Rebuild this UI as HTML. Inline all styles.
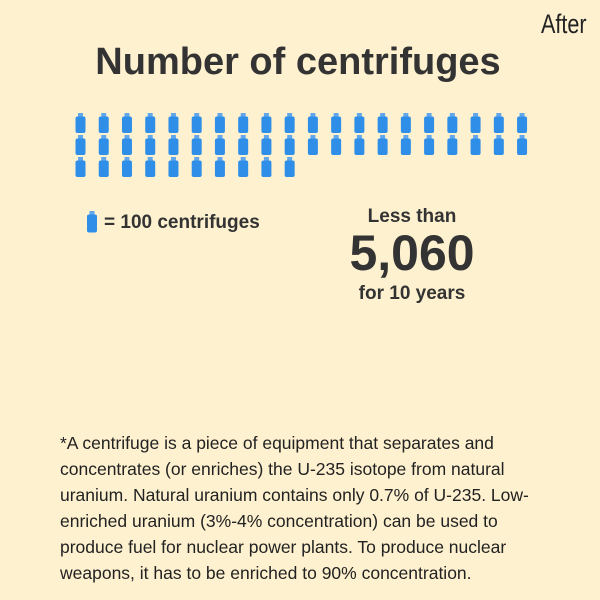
<!DOCTYPE html>
<html><head><meta charset="utf-8"><style>
body{margin:0;width:600px;height:600px;background:#fef1cf;font-family:"Liberation Sans",sans-serif;color:#333;position:relative;overflow:hidden}
.a{position:absolute;margin:0}
</style></head><body>
<div class="a" style="left:541px;top:9px;font-size:27px;font-family:'Liberation Sans Narrow','Liberation Sans',sans-serif;transform:scaleX(0.8);transform-origin:left top;color:#222">After</div>
<div class="a" style="left:0;width:596px;text-align:center;top:41px;font-size:38px;font-weight:bold">Number of centrifuges</div>
<svg class="a" style="left:0;top:0" width="600" height="600" id="g"></svg>
<svg class="a" style="left:86px;top:211px" width="12" height="24"><rect x="3.5" y="0" width="5" height="4" fill="#62a7ec"/><rect x="1" y="3.5" width="10" height="18" rx="2" fill="#2f8fe8"/></svg>
<div class="a" style="left:104px;top:212px;font-size:19px;font-weight:bold">= 100 centrifuges</div>
<div class="a" style="left:312px;width:200px;text-align:center;top:206px;font-size:19px;font-weight:bold">Less than</div>
<div class="a" style="left:312px;width:200px;text-align:center;top:224px;font-size:50px;font-weight:bold">5,060</div>
<div class="a" style="left:312px;width:200px;text-align:center;top:283px;font-size:19px;font-weight:bold">for 10 years</div>
<div class="a" style="left:60px;top:430px;width:530px;font-size:17.5px;line-height:26px;color:#222">*A centrifuge is a piece of equipment that separates and<br>concentrates (or enriches) the U-235 isotope from natural<br>uranium. Natural uranium contains only 0.7% of U-235. Low-<br>enriched uranium (3%-4% concentration) can be used to<br>produce fuel for nuclear power plants. To produce nuclear<br>weapons, it has to be enriched to 90% concentration.</div>
<script>
const totalCentrifuges = [5060];
const perIcon = [100];
const perRow = [20];
const g=document.getElementById('g');
const n=Math.floor(totalCentrifuges[0]/perIcon[0]);
const ns='http://www.w3.org/2000/svg';
for(let i=0;i<n;i++){
  const r=Math.floor(i/perRow[0]), c=i%perRow[0];
  const cx=80.5+c*23.24, y=113+r*22;
  const grp=document.createElementNS(ns,'g');
  
  
  const cap=document.createElementNS(ns,'rect');
  cap.setAttribute('x',cx-2.5);cap.setAttribute('y',y);cap.setAttribute('width',5);cap.setAttribute('height',4);cap.setAttribute('fill','#62a7ec');
  const b=document.createElementNS(ns,'rect');
  b.setAttribute('x',cx-5);b.setAttribute('y',y+3.5);b.setAttribute('width',10);b.setAttribute('height',16.5);b.setAttribute('rx',2);b.setAttribute('fill','#2f8fe8');
  grp.appendChild(cap);grp.appendChild(b);g.appendChild(grp);
}
</script>
</body></html>
